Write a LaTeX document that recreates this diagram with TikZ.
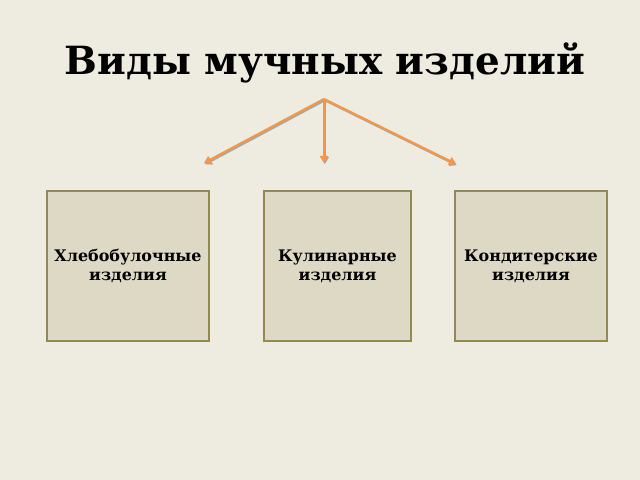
\documentclass[tikz,border=0pt]{standalone}
\usepackage{fontspec}
\setmainfont{DejaVu Serif}
\usetikzlibrary{arrows.meta}
\definecolor{bgcol}{HTML}{EEEBE0}
\definecolor{boxfill}{HTML}{DDD9C4}
\definecolor{boxline}{HTML}{938953}
\definecolor{arrcol}{HTML}{F79646}
\tikzset{
  kind/.style={draw=boxline, fill=boxfill, line width=1.5bp, minimum height=150bp,
    align=center, font=\bfseries\fontsize{16}{19}\selectfont, inner sep=0pt},
  pointer/.style={draw=arrcol, line width=2.2bp, -{Triangle[length=7bp,width=8bp]},
    preaction={draw=black!35, line width=2.2bp, transform canvas={shift={(0.8bp,-1.2bp)}}}}
}
\begin{document}
\begin{tikzpicture}[x=1bp,y=-1bp]
      \fill[bgcol] (0,0) rectangle (640,480);
      \useasboundingbox (0,0) rectangle (640,480);
      \node (p0) at (325,63){\bfseries\fontsize{39}{46}\selectfont Виды мучных изделий};
      \coordinate (top) at (324,99);
      \node[kind, minimum width=162bp] (p1) at (128,266){Хлебобулочные\\изделия};
      \node[kind, minimum width=147bp] (p2) at (337.5,266){Кулинарные\\изделия};
      \node[kind, minimum width=152bp] (p3) at (531,266){Кондитерские\\изделия};
      \coordinate (a1) at (204,163);
      \coordinate (a2) at (324,163);
      \coordinate (a3) at (456,164);
      \path[pointer] (top) -- (a1);
      \path[pointer] (top) -- (a2);
      \path[pointer] (top) -- (a3);
    \end{tikzpicture}
\end{document}
